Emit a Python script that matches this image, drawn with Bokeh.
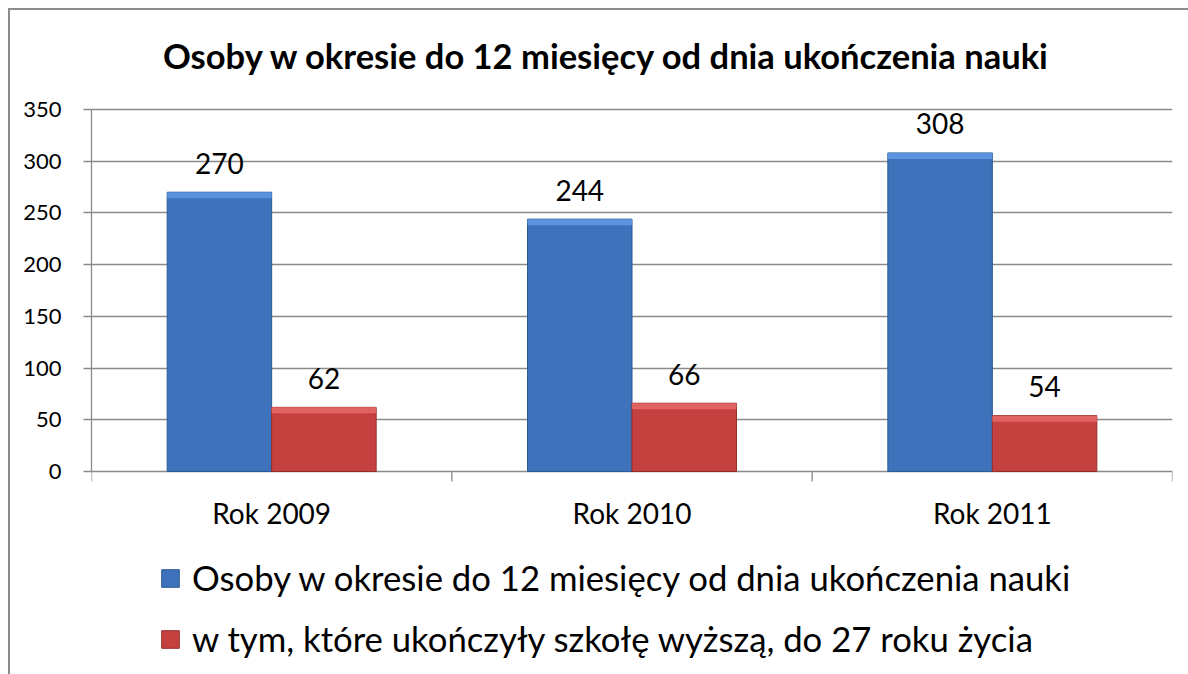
from bokeh.plotting import figure
from bokeh.models import ColumnDataSource, FixedTicker, Range1d, Legend, LegendItem
from bokeh.core.properties import value
from bokeh.embed import file_html
from bokeh.resources import INLINE

# ---- data ----
categories = ["Rok 2009", "Rok 2010", "Rok 2011"]
series_names = ["Osoby w okresie do 12 miesięcy od dnia ukończenia nauki",
                "w tym, które ukończyły szkołę wyższą, do 27 roku życia"]
total = [270, 244, 308]
higher_ed = [62, 66, 54]
y_ticks = [0, 50, 100, 150, 200, 250, 300, 350]
title_text = "Osoby w okresie do 12 miesięcy od dnia ukończenia nauki"

# ---- styles / layout ----
FONT = "Lato"
BLUE, BLUE_HI, BLUE_LN = "#3e73bb", "#5a93de", "#2c5894"
RED, RED_HI, RED_LN = "#c5413f", "#e26462", "#962d2b"
GRID = "#8a8a8a"

ABOVE_PX = 99          # pixel room over the top gridline for the title
PLOT_PX = 362          # pixel height of the value area (0..350)
BELOW_PX = 203         # pixel room under the zero line for labels + legend
px_per_unit = PLOT_PX / (y_ticks[-1] - y_ticks[0])
y_min = y_ticks[0] - BELOW_PX / px_per_unit
y_max = y_ticks[-1] + ABOVE_PX / px_per_unit

n = len(categories)
centers = [2 * i + 1 for i in range(n)]
bounds = [2 * i for i in range(n + 1)]
dodge, bw = 0.29, 0.58
hi = 6 / px_per_unit
tick_len = 10 / px_per_unit

src = ColumnDataSource(dict(
    xb=[c - dodge for c in centers], xr=[c + dodge for c in centers],
    total=total, higher=higher_ed,
    total_hi=[v - hi for v in total], higher_hi=[v - hi for v in higher_ed],
    total_lbl=[str(v) for v in total], higher_lbl=[str(v) for v in higher_ed],
))
cat_src = ColumnDataSource(dict(x=centers, y=[y_ticks[0]] * n, name=categories))
tick_src = ColumnDataSource(dict(x=bounds, y0=[y_ticks[0]] * (n + 1),
                                 y1=[y_ticks[0] - tick_len] * (n + 1)))
title_src = ColumnDataSource(dict(x=[n], y=[y_max], t=[title_text]))

p = figure(frame_width=1081, frame_height=ABOVE_PX + PLOT_PX + BELOW_PX, output_backend="svg",
           toolbar_location=None, x_axis_location=None, title=None,
           x_range=Range1d(0, 2 * n), y_range=Range1d(y_min, y_max),
           min_border_left=81, min_border_right=16, min_border_top=0,
           min_border_bottom=0, outline_line_color=None)
p.margin = (8, 0, 0, 8)
p.styles = {"border-top": "2px solid #8c8c8c", "border-left": "2px solid #8c8c8c"}

# title
p.text(x="x", y="y", text="t", source=title_src, text_align="center", text_baseline="middle",
       x_offset=-25, y_offset=45, text_font=value(FONT), text_font_size="34.5px",
       text_font_style="bold", text_color="black")

# grid
p.xgrid.visible = False
p.ygrid.grid_line_color = GRID
p.ygrid.grid_line_width = 1.3
p.ygrid.ticker = FixedTicker(ticks=y_ticks)

# bars
r1 = p.vbar(x="xb", top="total", width=bw, source=src, fill_color=BLUE, line_color=BLUE_LN, line_width=1)
p.vbar(x="xb", top="total", bottom="total_hi", width=bw, source=src, fill_color=BLUE_HI, line_color=None)
r2 = p.vbar(x="xr", top="higher", width=bw, source=src, fill_color=RED, line_color=RED_LN, line_width=1)
p.vbar(x="xr", top="higher", bottom="higher_hi", width=bw, source=src, fill_color=RED_HI, line_color=None)

# value labels
for xcol, ycol, tcol in [("xb", "total", "total_lbl"), ("xr", "higher", "higher_lbl")]:
    p.text(x=xcol, y=ycol, text=tcol, source=src, text_align="center", text_baseline="middle",
           y_offset=-29, text_font=value(FONT), text_font_size="28px", text_color="black")

# category axis: boundary ticks + labels
p.segment(x0="x", y0="y0", x1="x", y1="y1", source=tick_src, line_color=GRID, line_width=1.3)
p.text(x="x", y="y", text="name", source=cat_src, text_align="center", text_baseline="middle",
       y_offset=41, text_font=value(FONT), text_font_size="28px", text_color="black")

# value axis
ya = p.yaxis[0]
ya.ticker = FixedTicker(ticks=y_ticks)
ya.bounds = (y_ticks[0], y_ticks[-1])
ya.major_tick_out = 8
ya.major_tick_in = 0
ya.minor_tick_line_color = None
ya.major_tick_line_color = GRID
ya.major_tick_line_width = 1.3
ya.axis_line_color = GRID
ya.axis_line_width = 1.3
ya.major_label_text_font = FONT
ya.major_label_text_font_size = "22px"
ya.major_label_text_color = "black"
ya.major_label_standoff = 22

legend = Legend(items=[LegendItem(label=series_names[0], renderers=[r1]),
                       LegendItem(label=series_names[1], renderers=[r2])],
                location=(68, 15), orientation="vertical",
                label_text_font=FONT, label_text_font_size="34.7px", label_text_color="black",
                glyph_width=22, glyph_height=22, label_standoff=11, spacing=20,
                border_line_color=None, background_fill_alpha=0, padding=0, margin=0)
p.add_layout(legend, "center")

open("out.html", "w").write(file_html(p, INLINE))
